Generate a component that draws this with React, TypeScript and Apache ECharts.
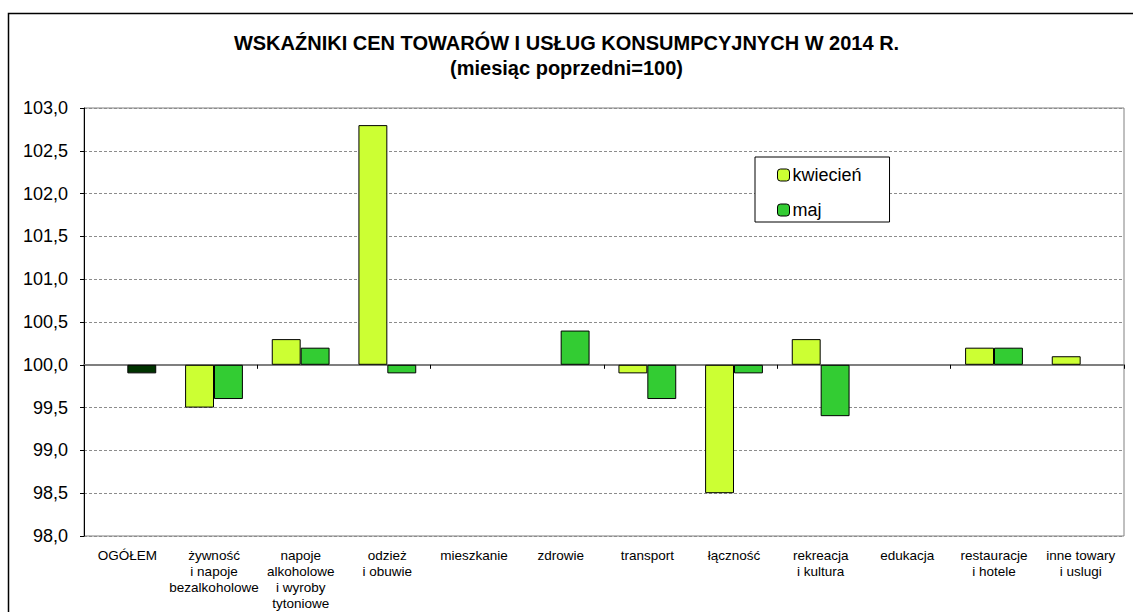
import React, { useEffect, useRef } from "react";
import * as echarts from "echarts";

const categories = [
  "OGÓŁEM",
  "żywność\ni napoje\nbezalkoholowe",
  "napoje\nalkoholowe\ni wyroby\ntytoniowe",
  "odzież\ni obuwie",
  "mieszkanie",
  "zdrowie",
  "transport",
  "łączność",
  "rekreacja\ni kultura",
  "edukacja",
  "restauracje\ni hotele",
  "inne towary\ni uslugi",
];

const kwiecien = [100.0, 99.5, 100.3, 102.8, 100.0, 100.0, 99.9, 98.5, 100.3, 100.0, 100.2, 100.1];
const maj = [99.9, 99.6, 100.2, 99.9, 100.0, 100.4, 99.6, 99.9, 99.4, 100.0, 100.2, 100.0];

const BASE = 100;
const yMin = 98;
const yMax = 103;
const yStep = 0.5;

const FONT = "'Liberation Sans', Arial, sans-serif";
const COLOR_KW = "#CCFF33";
const COLOR_MAJ = "#33CC33";
const COLOR_TOTAL = "#003300";

function toItems(values: number[], totalColor?: string) {
  return values.map((v, i) => {
    const d = Math.round((v - BASE) * 1000) / 1000;
    const item: any = { value: d };
    if (d === 0) item.itemStyle = { borderWidth: 0 };
    if (i === 0 && totalColor) item.itemStyle = { ...(item.itemStyle || {}), color: totalColor };
    return item;
  });
}

export default function App() {
  const ref = useRef<HTMLDivElement>(null);
  useEffect(() => {
    if (!ref.current) return;
    const chart = echarts.init(ref.current, undefined, { renderer: "svg" });
    chart.setOption({
      animation: false,
      backgroundColor: "#ffffff",
      textStyle: { fontFamily: FONT },
      graphic: [
        {
          type: "rect",
          shape: { x: 8.5, y: 13.5, width: 1200, height: 700 },
          style: { fill: "none", stroke: "#000", lineWidth: 1.5 },
          silent: true,
        },
      ],
      title: {
        text: "WSKAŹNIKI CEN TOWARÓW I USŁUG KONSUMPCYJNYCH W 2014 R.\n(miesiąc poprzedni=100)",
        left: "center",
        top: 30,
        padding: 0,
        textStyle: {
          fontFamily: FONT,
          fontSize: 20,
          fontWeight: "bold",
          color: "#000",
          lineHeight: 25,
        },
      },
      legend: {
        orient: "vertical",
        left: 755,
        top: 157,
        padding: [9, 28, 3, 22],
        itemGap: 17,
        itemWidth: 12,
        itemHeight: 12,
        itemStyle: { borderColor: "#000", borderWidth: 1 },
        backgroundColor: "#fff",
        borderColor: "#000",
        borderWidth: 1,
        textStyle: { fontFamily: FONT, fontSize: 18, color: "#000", lineHeight: 18, padding: [0, 0, 0, -2] },
        data: ["kwiecień", "maj"],
      },
      grid: {
        left: 84,
        top: 108,
        right: 9,
        bottom: 76,
        show: true,
        borderColor: "#808080",
        borderWidth: 1,
        backgroundColor: "transparent",
      },
      xAxis: [
        {
          type: "category",
          data: categories,
          position: "bottom",
          axisLine: { show: false, onZero: false },
          axisTick: { show: false },
          axisLabel: {
            interval: 0,
            margin: 11,
            fontFamily: FONT,
            fontSize: 13.5,
            lineHeight: 16,
            color: "#000",
            verticalAlign: "top",
          },
          splitLine: { show: false },
        },
        {
          type: "category",
          data: categories,
          position: "top",
          axisLine: { show: true, onZero: true, lineStyle: { color: "#7f7f7f", width: 2 } },
          axisTick: { show: true, inside: true, length: 4, lineStyle: { color: "#000", width: 1 } },
          axisLabel: { show: false },
          splitLine: { show: false },
        },
      ],
      yAxis: {
        type: "value",
        min: yMin - BASE,
        max: yMax - BASE,
        interval: yStep,
        axisLine: { show: true, onZero: false, lineStyle: { color: "#000", width: 1 } },
        axisTick: { show: true, length: 4, lineStyle: { color: "#000" } },
        axisLabel: {
          margin: 16,
          fontFamily: FONT,
          fontSize: 18,
          color: "#000",
          formatter: (v: number) => (v + BASE).toFixed(1).replace(".", ","),
        },
        splitLine: { show: true, lineStyle: { color: "#8c8c8c", type: [3, 2], width: 1 } },
      },
      series: [
        {
          name: "kwiecień",
          type: "bar",
          xAxisIndex: 0,
          yAxisIndex: 0,
          barGap: "0%",
          barCategoryGap: "33.3%",
          itemStyle: { color: COLOR_KW, borderColor: "#000", borderWidth: 1 },
          data: toItems(kwiecien),
        },
        {
          name: "maj",
          type: "bar",
          xAxisIndex: 0,
          yAxisIndex: 0,
          barGap: "0%",
          barCategoryGap: "33.3%",
          itemStyle: { color: COLOR_MAJ, borderColor: "#000", borderWidth: 1 },
          data: toItems(maj, COLOR_TOTAL),
        },
      ],
    });
    return () => chart.dispose();
  }, []);
  return (
    <div
      ref={ref}
      style={{ position: "absolute", left: 0, top: 0, width: 1133, height: 612 }}
    />
  );
}
